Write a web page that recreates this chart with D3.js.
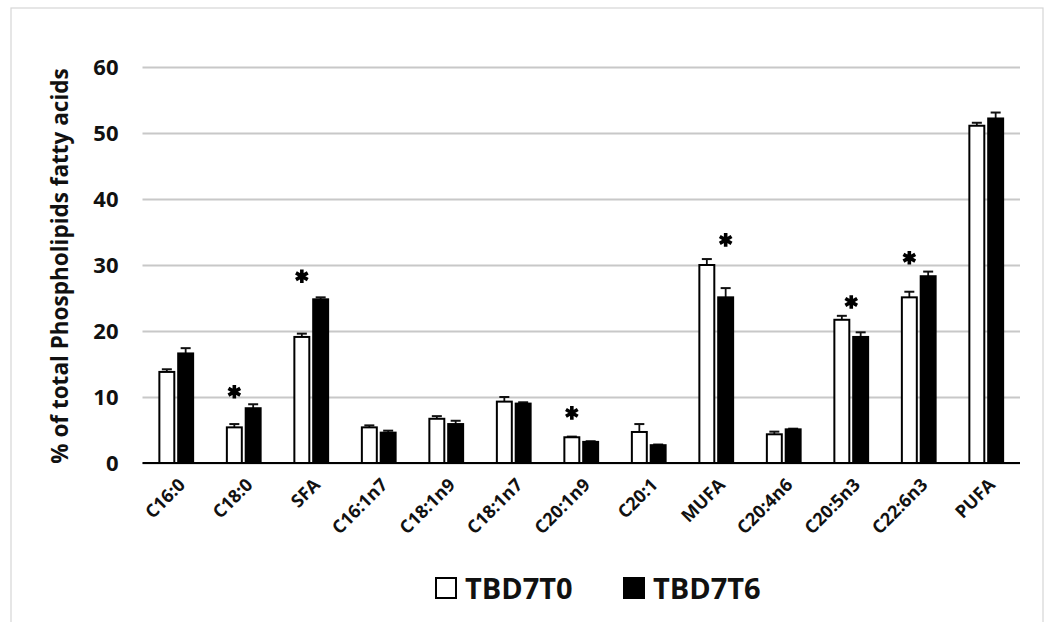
<!DOCTYPE html>
<html lang="en">
<head>
  <meta charset="UTF-8">
  <title>Phospholipid fatty acids</title>
  <script src="https://d3js.org/d3.v7.min.js"></script>
  <style>
    body { margin: 0; background: #fff; }
    svg { font-family: "Open Sans", sans-serif; font-weight: bold; }
  </style>
</head>
<body>
  <svg width="1048" height="622"></svg>
  <script>
    const svg = d3.select("svg");

    const categories = ["C16:0", "C18:0", "SFA", "C16:1n7", "C18:1n9", "C18:1n7", "C20:1n9",
      "C20:1", "MUFA", "C20:4n6", "C20:5n3", "C22:6n3", "PUFA"];
    const series = ["TBD7T0", "TBD7T6"];
    const t0Values = [13.8, 5.4, 19.1, 5.4, 6.7, 9.3, 3.9, 4.7, 30.0, 4.35, 21.7, 25.1, 51.1];
    const t0Errors = [0.4, 0.5, 0.5, 0.3, 0.4, 0.7, 0.1, 1.2, 0.9, 0.4, 0.6, 0.85, 0.45];
    const t6Values = [16.6, 8.3, 24.8, 4.6, 5.9, 9.0, 3.2, 2.7, 25.1, 5.1, 19.1, 28.3, 52.2];
    const t6Errors = [0.8, 0.6, 0.3, 0.3, 0.5, 0.2, 0.1, 0.1, 1.4, 0.1, 0.7, 0.7, 0.9];
    const yTicks = [0, 10, 20, 30, 40, 50, 60];

    // significance marks: category, series the star sits over, height
    const starCats = ["C18:0", "SFA", "C20:1n9", "MUFA", "C20:5n3", "C22:6n3"];
    const starOver = ["TBD7T0", "TBD7T0", "TBD7T0", "TBD7T6", null, "TBD7T0"];
    const starY = [10.8, 28.3, 7.6, 33.8, 24.4, 31.1];

    const x = d3.scaleBand().domain(categories).range([142.5, 1020])
      .paddingInner(0.47).paddingOuter(0.235);
    const xs = d3.scaleBand().domain(series).range([0, x.bandwidth()]).paddingInner(0.1);
    const y = d3.scaleLinear().domain([0, 60]).range([463, 67]);

    const rows = categories.map((c, i) => [
      { cat: c, s: "TBD7T0", v: t0Values[i], e: t0Errors[i] },
      { cat: c, s: "TBD7T6", v: t6Values[i], e: t6Errors[i] }
    ]).flat();

    // outer frame
    svg.append("rect")
      .attr("x", 11).attr("y", 8).attr("width", 1032).attr("height", 700)
      .attr("fill", "none").attr("stroke", "#d6d6d6").attr("stroke-width", 1.2);

    // gridlines + y labels
    const yAxis = svg.append("g")
      .attr("transform", "translate(142.5,0)")
      .call(d3.axisLeft(y).tickValues(yTicks).tickSize(-(1020 - 142.5)).tickPadding(24));
    yAxis.select(".domain").remove();
    yAxis.selectAll(".tick line").attr("stroke", "#c8c8c8").attr("stroke-width", 1.8);
    yAxis.selectAll(".tick text")
      .attr("font-size", 22).attr("font-family", "Open Sans").attr("font-weight", "bold")
      .attr("fill", "#111");

    svg.append("text")
      .attr("transform", "translate(68,266) rotate(-90)")
      .attr("text-anchor", "middle")
      .attr("font-size", 22.5)
      .attr("fill", "#111")
      .text("%  of total Phospholipids  fatty acids");

    // error bars
    const eb = svg.append("g").selectAll("g").data(rows).join("g")
      .attr("transform", d => `translate(${x(d.cat) + xs(d.s) + xs.bandwidth() / 2},0)`);
    eb.append("line")
      .attr("y1", d => y(d.v)).attr("y2", d => y(d.v + d.e))
      .attr("stroke", "#111").attr("stroke-width", 1.8);
    eb.append("line")
      .attr("x1", -5).attr("x2", 5)
      .attr("y1", d => y(d.v + d.e)).attr("y2", d => y(d.v + d.e))
      .attr("stroke", "#111").attr("stroke-width", 2);

    // bars
    svg.append("g").selectAll("rect").data(rows).join("rect")
      .attr("x", d => x(d.cat) + xs(d.s) + 1)
      .attr("y", d => y(d.v))
      .attr("width", xs.bandwidth() - 2)
      .attr("height", d => y(0) - y(d.v))
      .attr("fill", d => d.s === "TBD7T0" ? "#fff" : "#000")
      .attr("stroke", "#000")
      .attr("stroke-width", 2);

    // baseline
    svg.append("line")
      .attr("x1", 142.5).attr("x2", 1020).attr("y1", y(0)).attr("y2", y(0))
      .attr("stroke", "#000").attr("stroke-width", 2);

    // x labels
    svg.append("g").selectAll("text").data(categories).join("text")
      .attr("transform", d => `translate(${x(d) + x.bandwidth() / 2 + 10},486) rotate(-45)`)
      .attr("text-anchor", "end")
      .attr("font-size", 18)
      .attr("fill", "#111")
      .text(d => d);

    // stars
    const star = d3.symbol(d3.symbolAsterisk, 130);
    svg.append("g").selectAll("path").data(starCats).join("path")
      .attr("transform", (c, i) => {
        const cx = starOver[i] ? x(c) + xs(starOver[i]) + xs.bandwidth() / 2 : x(c) + x.bandwidth() / 2;
        return `translate(${cx},${y(starY[i])})`;
      })
      .attr("d", star)
      .attr("stroke", "#000").attr("stroke-width", 3.6).attr("fill", "none");

    // legend
    const leg = svg.append("g").selectAll("g").data(series).join("g")
      .attr("transform", (d, i) => `translate(${436 + i * 188},578)`);
    leg.append("rect")
      .attr("width", 20).attr("height", 20)
      .attr("fill", d => d === "TBD7T0" ? "#fff" : "#000")
      .attr("stroke", "#000").attr("stroke-width", 2);
    leg.append("text")
      .attr("x", 29).attr("y", 20.5)
      .attr("font-size", 29)
      .attr("fill", "#111")
      .text(d => d);
  </script>
</body>
</html>
